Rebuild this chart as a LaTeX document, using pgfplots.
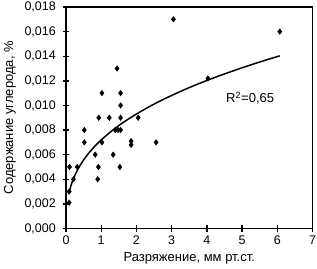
\documentclass[border=0pt]{standalone}
\usepackage{pgfplots}
\pgfplotsset{compat=1.18}
\usepackage{fontspec}
\setmainfont{Liberation Sans}
\begin{document}
\fontsize{12bp}{14bp}\selectfont
\begin{tikzpicture}
\begin{axis}[
  scale only axis,
  width=246.5bp, height=221.5bp,
  xmin=0, xmax=7, ymin=0, ymax=0.018,
  xtick={0,1,2,3,4,5,6,7},
  ytick={0,0.002,0.004,0.006,0.008,0.010,0.012,0.014,0.016,0.018},
  scaled y ticks=false,
  xtick pos=left, ytick pos=left,
  tick align=center,
  major tick length=6bp,
  axis line style={line width=1.7bp},
  every tick/.style={black, line width=1.4bp},
  /pgf/number format/assume math mode=true,
  yticklabel style={xshift=-3bp, /pgf/number format/.cd, fixed, fixed zerofill, precision=3, use comma},
  xticklabel style={/pgf/number format/.cd, fixed, use comma},
  tick label style={font=\fontsize{12.5bp}{14bp}\selectfont},
  xlabel={Разряжение, мм рт.ст.},
  ylabel={Содержание углерода, \%},
  xlabel style={at={(axis description cs:0.5,-0.135)}, anchor=center},
  ylabel style={at={(axis description cs:-0.227,0.5)}, anchor=center},
  label style={font=\fontsize{13bp}{15bp}\selectfont},
  clip=false,
]
\addplot[only marks, mark=diamond*, mark size=2.8bp, black] coordinates {
(3.05,0.0170) (6.07,0.0160) (1.45,0.0130) (1.02,0.0110) (1.55,0.0110)
(4.03,0.0122) (1.55,0.0100) (0.93,0.0090) (1.23,0.0090) (1.55,0.0090)
(2.05,0.0090) (0.52,0.0080) (1.40,0.0080) (1.48,0.0080) (1.55,0.0080)
(0.52,0.0070) (1.02,0.0070) (1.85,0.0071) (1.85,0.0068) (2.56,0.0070)
(0.83,0.0060) (1.34,0.0060) (0.10,0.0050) (0.32,0.0050) (0.92,0.0050)
(1.53,0.0050) (0.21,0.0040) (0.90,0.0040) (0.09,0.0030) (0.09,0.0021)
};
\addplot[black, line width=1.5bp, smooth] coordinates {
(0.08,0.00283) (0.15,0.00357) (0.25,0.00431) (0.4,0.00513) (0.6,0.00596)
(0.8,0.00663) (1.0,0.00720) (1.3,0.00793) (1.6,0.00857) (2.0,0.00930)
(2.5,0.01011) (3.0,0.01081) (3.5,0.01145) (4.0,0.01203) (4.5,0.01256)
(5.0,0.01306) (5.5,0.01353) (6.0,0.01397) (6.07,0.01403)
};
\node[anchor=center, font=\fontsize{13bp}{15bp}\selectfont] at (axis cs:5.23,0.0106) {R\textsuperscript{2}=0,65};
\end{axis}
\pgfresetboundingbox
\path (current axis.south west) ++(-66bp,-40.5bp) rectangle ++(317bp,269bp);
\end{tikzpicture}
\end{document}
